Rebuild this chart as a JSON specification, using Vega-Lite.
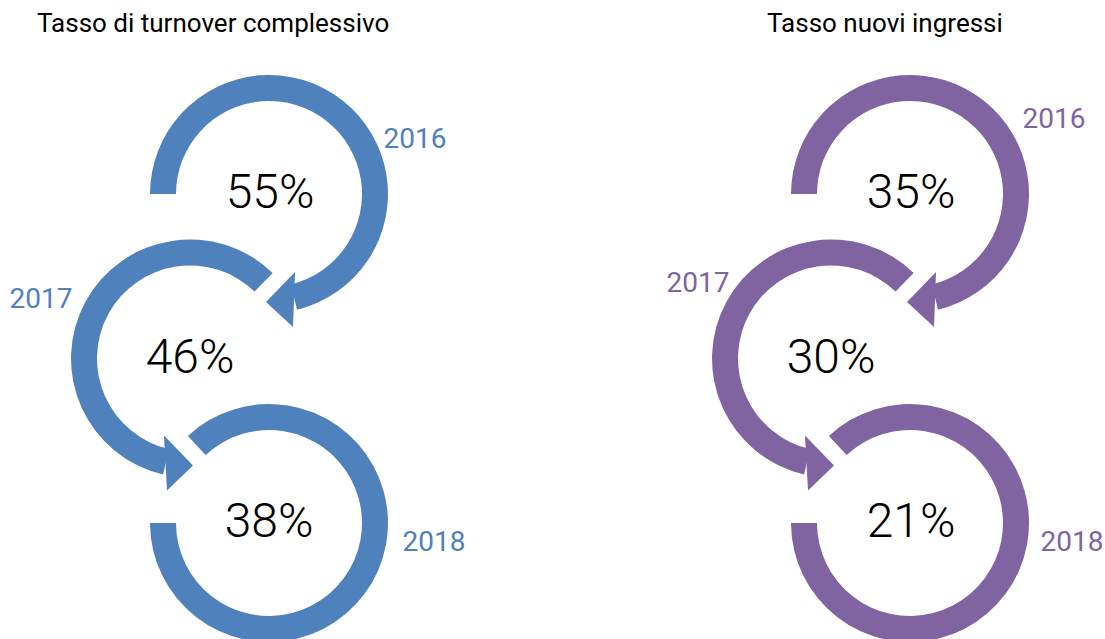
{
  "$schema": "https://vega.github.io/schema/vega-lite/v6.json",
  "padding": {"top": 11, "left": 0, "right": 0, "bottom": 0},
  "spacing": 175,
  "config": {"view": {"stroke": null}},
  "hconcat": [
    {
      "width": 465,
      "height": 602,
      "title": {"text": "Tasso di turnover complessivo", "anchor": "start", "dx": 37, "offset": 0, "fontSize": 26, "font": "Roboto", "fontWeight": 400, "color": "#000000", "frame": "group"},
      "data": {"values": [
        {"panel": "Tasso di turnover complessivo", "year": 2016, "value": 0.55},
        {"panel": "Tasso di turnover complessivo", "year": 2017, "value": 0.46},
        {"panel": "Tasso di turnover complessivo", "year": 2018, "value": 0.38}
      ]},
      "resolve": {"scale": {"x": "independent", "y": "independent"}},
      "layer": [
        {
          "transform": [{"filter": "datum.year == 2016"}],
          "mark": {"type": "arc", "theta": -1.5708, "theta2": 2.904, "radius": 119, "radius2": 93, "color": "#4F81BD", "clip": true},
          "encoding": {
            "x": {"field": "year", "type": "quantitative", "scale": {"domain": [2016, 2017, 2018], "range": [269, 190, 269], "nice": false}, "axis": null},
            "y": {"field": "year", "type": "quantitative", "scale": {"domain": [2016, 2018], "range": [157, 486], "nice": false}, "axis": null}
          }
        },
        {
          "transform": [{"filter": "datum.year == 2017"}],
          "mark": {"type": "arc", "theta": 3.370, "theta2": 7.051, "radius": 119, "radius2": 93, "color": "#4F81BD", "clip": true},
          "encoding": {
            "x": {"field": "year", "type": "quantitative", "scale": {"domain": [2016, 2017, 2018], "range": [269, 190, 269], "nice": false}, "axis": null},
            "y": {"field": "year", "type": "quantitative", "scale": {"domain": [2016, 2018], "range": [157, 486], "nice": false}, "axis": null}
          }
        },
        {
          "transform": [{"filter": "datum.year == 2018"}],
          "mark": {"type": "arc", "theta": -0.750, "theta2": 4.712, "radius": 119, "radius2": 93, "color": "#4F81BD", "clip": true},
          "encoding": {
            "x": {"field": "year", "type": "quantitative", "scale": {"domain": [2016, 2017, 2018], "range": [269, 190, 269], "nice": false}, "axis": null},
            "y": {"field": "year", "type": "quantitative", "scale": {"domain": [2016, 2018], "range": [157, 486], "nice": false}, "axis": null}
          }
        },
        {
          "transform": [{"filter": "datum.year <= 2017"}],
          "mark": {"type": "point", "filled": true, "size": 4, "opacity": 1, "color": "#4F81BD"},
          "encoding": {
            "x": {"field": "year", "type": "quantitative", "scale": {"domain": [2016, 2017, 2018], "range": [269, 190, 269], "nice": false}, "axis": null},
            "y": {"field": "year", "type": "quantitative", "scale": {"domain": [2016, 2018], "range": [157, 486], "nice": false}, "axis": null},
            "shape": {"field": "year", "type": "nominal", "scale": {"domain": [2016, 2017], "range": ["M -3 108 L 26 78 L 24 133 Z", "M 3 107 L -26 77 L -23 132 Z"]}, "legend": null}
          }
        },
        {
          "mark": {"type": "text", "font": "Roboto", "fontSize": 48, "fontWeight": 300, "color": "#000000", "align": "center", "baseline": "alphabetic"},
          "encoding": {
            "x": {"field": "year", "type": "quantitative", "scale": {"domain": [2016, 2017, 2018], "range": [270, 190, 269], "nice": false}, "axis": null},
            "y": {"field": "year", "type": "quantitative", "scale": {"domain": [2016, 2018], "range": [171, 500], "nice": false}, "axis": null},
            "text": {"field": "value", "type": "quantitative", "format": ".0%"}
          }
        },
        {
          "mark": {"type": "text", "font": "Roboto", "fontSize": 28, "fontWeight": 400, "color": "#4F81BD", "align": "center", "baseline": "alphabetic"},
          "encoding": {
            "x": {"field": "year", "type": "quantitative", "scale": {"domain": [2016, 2017, 2018], "range": [415, 41, 434], "nice": false}, "axis": null},
            "y": {"field": "year", "type": "quantitative", "scale": {"domain": [2016, 2017, 2018], "range": [111, 271, 514], "nice": false}, "axis": null},
            "text": {"field": "year", "type": "nominal"}
          }
        }
      ]
    },
    {
      "width": 465,
      "height": 602,
      "title": {"text": "Tasso nuovi ingressi", "anchor": "start", "dx": 126, "offset": 0, "fontSize": 26, "font": "Roboto", "fontWeight": 400, "color": "#000000", "frame": "group"},
      "data": {"values": [
        {"panel": "Tasso nuovi ingressi", "year": 2016, "value": 0.35},
        {"panel": "Tasso nuovi ingressi", "year": 2017, "value": 0.30},
        {"panel": "Tasso nuovi ingressi", "year": 2018, "value": 0.21}
      ]},
      "resolve": {"scale": {"x": "independent", "y": "independent"}},
      "layer": [
        {
          "transform": [{"filter": "datum.year == 2016"}],
          "mark": {"type": "arc", "theta": -1.5708, "theta2": 2.904, "radius": 119, "radius2": 93, "color": "#8064A2", "clip": true},
          "encoding": {
            "x": {"field": "year", "type": "quantitative", "scale": {"domain": [2016, 2017, 2018], "range": [269, 190, 269], "nice": false}, "axis": null},
            "y": {"field": "year", "type": "quantitative", "scale": {"domain": [2016, 2018], "range": [157, 486], "nice": false}, "axis": null}
          }
        },
        {
          "transform": [{"filter": "datum.year == 2017"}],
          "mark": {"type": "arc", "theta": 3.370, "theta2": 7.051, "radius": 119, "radius2": 93, "color": "#8064A2", "clip": true},
          "encoding": {
            "x": {"field": "year", "type": "quantitative", "scale": {"domain": [2016, 2017, 2018], "range": [269, 190, 269], "nice": false}, "axis": null},
            "y": {"field": "year", "type": "quantitative", "scale": {"domain": [2016, 2018], "range": [157, 486], "nice": false}, "axis": null}
          }
        },
        {
          "transform": [{"filter": "datum.year == 2018"}],
          "mark": {"type": "arc", "theta": -0.750, "theta2": 4.712, "radius": 119, "radius2": 93, "color": "#8064A2", "clip": true},
          "encoding": {
            "x": {"field": "year", "type": "quantitative", "scale": {"domain": [2016, 2017, 2018], "range": [269, 190, 269], "nice": false}, "axis": null},
            "y": {"field": "year", "type": "quantitative", "scale": {"domain": [2016, 2018], "range": [157, 486], "nice": false}, "axis": null}
          }
        },
        {
          "transform": [{"filter": "datum.year <= 2017"}],
          "mark": {"type": "point", "filled": true, "size": 4, "opacity": 1, "color": "#8064A2"},
          "encoding": {
            "x": {"field": "year", "type": "quantitative", "scale": {"domain": [2016, 2017, 2018], "range": [269, 190, 269], "nice": false}, "axis": null},
            "y": {"field": "year", "type": "quantitative", "scale": {"domain": [2016, 2018], "range": [157, 486], "nice": false}, "axis": null},
            "shape": {"field": "year", "type": "nominal", "scale": {"domain": [2016, 2017], "range": ["M -3 108 L 26 78 L 24 133 Z", "M 3 107 L -26 77 L -23 132 Z"]}, "legend": null}
          }
        },
        {
          "mark": {"type": "text", "font": "Roboto", "fontSize": 48, "fontWeight": 300, "color": "#000000", "align": "center", "baseline": "alphabetic"},
          "encoding": {
            "x": {"field": "year", "type": "quantitative", "scale": {"domain": [2016, 2017, 2018], "range": [270, 190, 270], "nice": false}, "axis": null},
            "y": {"field": "year", "type": "quantitative", "scale": {"domain": [2016, 2018], "range": [171, 500], "nice": false}, "axis": null},
            "text": {"field": "value", "type": "quantitative", "format": ".0%"}
          }
        },
        {
          "mark": {"type": "text", "font": "Roboto", "fontSize": 28, "fontWeight": 400, "color": "#8064A2", "align": "center", "baseline": "alphabetic"},
          "encoding": {
            "x": {"field": "year", "type": "quantitative", "scale": {"domain": [2016, 2017, 2018], "range": [413, 57, 431], "nice": false}, "axis": null},
            "y": {"field": "year", "type": "quantitative", "scale": {"domain": [2016, 2017, 2018], "range": [91, 255, 514], "nice": false}, "axis": null},
            "text": {"field": "year", "type": "nominal"}
          }
        }
      ]
    }
  ]
}
